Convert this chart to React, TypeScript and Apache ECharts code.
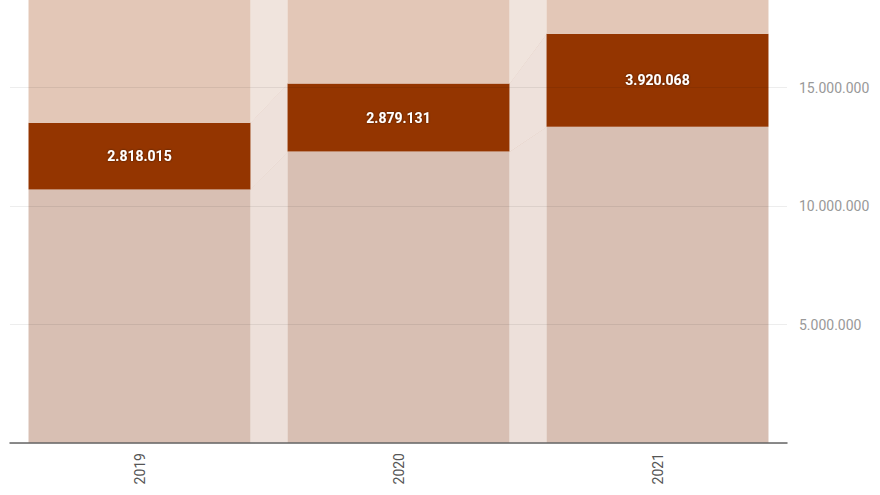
import React, { useEffect, useRef } from "react";
import * as echarts from "echarts";

const categories = ["2019", "2020", "2021"];
const baseValues = [10700000, 12300000, 13350000];
const highlightValues = [2818015, 2879131, 3920068];
const topValues = [7000000, 7000000, 7000000];
const yTicks = [5000000, 10000000, 15000000];

const GAP = 0.143;

const fmt = (v: number) => String(Math.round(v)).replace(/\B(?=(\d{3})+(?!\d))/g, ".");

export default function App() {
  const ref = useRef<HTMLDivElement>(null);
  useEffect(() => {
    if (!ref.current) return;
    const chart = echarts.init(ref.current, undefined, { renderer: "svg" });
    const bounds = categories.map((_, i) => [
      0,
      baseValues[i],
      baseValues[i] + highlightValues[i],
      baseValues[i] + highlightValues[i] + topValues[i],
    ]);
    const connFill = ["#ede0da", "#eee1db", "#f0e4dd"];
    const connData = categories.slice(0, -1).map((_, i) => [i, 0]);
    chart.setOption({
      animation: false,
      grid: { left: 10, right: 93, top: 0, bottom: 52, containLabel: false },
      xAxis: {
        type: "category",
        data: categories,
        axisLine: { lineStyle: { color: "#666", width: 1.5 } },
        axisTick: { show: false },
        axisLabel: {
          rotate: 90,
          color: "#555",
          fontSize: 14,
          fontFamily: "Roboto",
          margin: 10,
        },
        z: 5,
      },
      yAxis: {
        type: "value",
        position: "right",
        min: 0,
        max: 18700000,
        interval: 5000000,
        axisLine: { show: false },
        axisTick: { show: false },
        splitLine: { showMaxLine: false, lineStyle: { color: "rgba(0,0,0,0.07)", width: 1 } },
        axisLabel: {
          color: "#999",
          fontSize: 14,
          fontFamily: "Roboto",
          margin: 12,
          showMaxLabel: false,
          formatter: (v: number) => (yTicks.includes(v) ? fmt(v) : ""),
        },
        z: 5,
      },
      series: [
        {
          type: "custom",
          z: 1,
          clip: true,
          data: connData,
          encode: { x: 0, y: 1 },
          renderItem: (params: any, api: any) => {
            const i = api.value(0);
            const band = api.size([1, 0])[0];
            const bw = band * (1 - GAP);
            const x0 = api.coord([i, 0])[0] + bw / 2;
            const x1 = api.coord([i + 1, 0])[0] - bw / 2;
            const children: any[] = [];
            for (let s = 0; s < 3; s++) {
              const a0 = api.coord([i, bounds[i][s]])[1];
              const a1 = api.coord([i, bounds[i][s + 1]])[1];
              const b0 = api.coord([i + 1, bounds[i + 1][s]])[1];
              const b1 = api.coord([i + 1, bounds[i + 1][s + 1]])[1];
              children.push({
                type: "polygon",
                shape: { points: [[x0, a0], [x1, b0], [x1, b1], [x0, a1]] },
                style: { fill: connFill[s] },
              });
              children.push({
                type: "line",
                shape: { x1: x0, y1: a1, x2: x1, y2: b1 },
                style: { stroke: "rgba(200,150,125,0.22)", lineWidth: 1 },
              });
            }
            return { type: "group", children };
          },
        },
        {
          type: "bar",
          stack: "a",
          data: baseValues,
          barCategoryGap: "14.3%",
          itemStyle: { color: "#d8bfb3" },
          z: 2,
        },
        {
          type: "bar",
          stack: "a",
          data: highlightValues,
          barCategoryGap: "14.3%",
          itemStyle: { color: "#943500" },
          label: {
            show: true,
            position: "inside",
            color: "#fff",
            fontWeight: "bold",
            fontSize: 14,
            fontFamily: "Roboto",
            textShadowColor: "rgba(0,0,0,0.6)",
            textShadowBlur: 2,
            formatter: (p: any) => fmt(p.value),
          },
          z: 2,
        },
        {
          type: "bar",
          stack: "a",
          data: topValues,
          barCategoryGap: "14.3%",
          itemStyle: { color: "#e3c7b7" },
          z: 2,
        },
      ],
    });
    return () => chart.dispose();
  }, []);
  return <div ref={ref} style={{ width: 880, height: 495, position: "absolute", left: 0, top: 0 }} />;
}
